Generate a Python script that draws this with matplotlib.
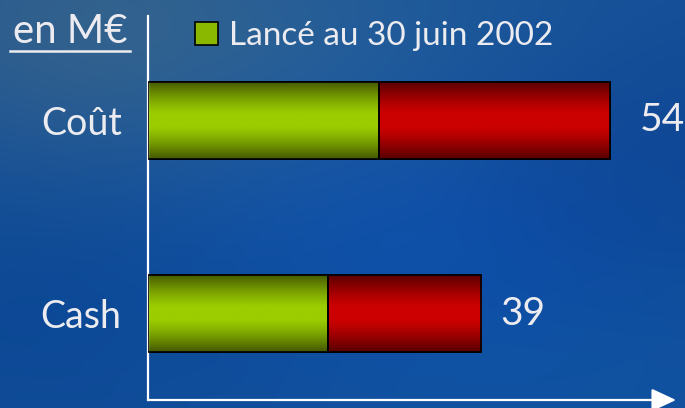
"""Bar chart: coût / cash en M€."""
import numpy as np
import matplotlib.pyplot as plt
from matplotlib.colors import to_rgb

categories = ['Cash', 'Coût']
lance = [21, 27]       # lancé au 30 juin 2002
reste = [18, 27]
totals = [39, 54]
legend_label = 'Lancé au 30 juin 2002'
unit_label = 'en M€'

plt.rcParams['font.family'] = ['Lato', 'DejaVu Sans']
TXT = '#ececf0'
W, H = 685, 408

fig = plt.figure(figsize=(W / 100, H / 100), dpi=100)

# blue background with soft lighter / darker patches
bg = fig.add_axes([0, 0, 1, 1], zorder=0)
yy, xx = np.mgrid[0:1:200j, 0:1:340j]
base = np.array(to_rgb('#14509a'))
img = np.ones((200, 340, 3)) * base
blobs = [(0.1, 0.05, 0.25, np.array([0.10, 0.05, -0.05])),
         (0.5, 0.1, 0.3, np.array([0.04, 0.04, 0.0])),
         (0.6, 0.55, 0.25, np.array([-0.02, 0.0, 0.06])),
         (0.95, 0.4, 0.25, np.array([-0.02, -0.04, -0.03])),
         (0.05, 0.75, 0.25, np.array([-0.03, -0.03, -0.02])),
         (0.85, 0.95, 0.3, np.array([-0.01, 0.01, 0.02]))]
for cx, cy, r, d in blobs:
    g = np.exp(-((xx - cx) ** 2 + (yy - cy) ** 2) / (2 * r ** 2))
    img += g[..., None] * d
bg.imshow(np.clip(img, 0, 1), aspect='auto', extent=[0, 1, 0, 1],
          interpolation='bilinear')
bg.axis('off')

ax = fig.add_axes([148 / W, 8 / H, 528 / W, 384 / H], zorder=1)
ax.patch.set_alpha(0)

y = np.arange(len(categories))
h = 0.4


def grad(center, edge, n=64):
    t = np.abs(np.linspace(-1, 1, n))
    t = np.clip((t - 0.15) / 0.85, 0, 1) ** 1.3
    c, e = np.array(to_rgb(center)), np.array(to_rgb(edge))
    return (c[None, :] * (1 - t[:, None]) + e[None, :] * t[:, None])[:, None, :]


g_green = grad('#9bcd00', '#445800')
g_red = grad('#cc0000', '#580000')

b1 = ax.barh(y, lance, height=h, color='#8ab800', edgecolor='black',
             linewidth=1.2, zorder=2, label=legend_label)
b2 = ax.barh(y, reste, left=lance, height=h, color='#b80000',
             edgecolor='black', linewidth=1.2, zorder=2)
for bars, gimg in ((b1, g_green), (b2, g_red)):
    for r in bars:
        x0, y0 = r.get_x(), r.get_y()
        im = ax.imshow(gimg, extent=(x0, x0 + r.get_width(), y0, y0 + r.get_height()),
                       aspect='auto', interpolation='bilinear', zorder=2.5)
        im.set_clip_path(r)
ax.barh(y, lance, height=h, fill=False, edgecolor='black', linewidth=1.2, zorder=3)
ax.barh(y, reste, left=lance, height=h, fill=False, edgecolor='black',
        linewidth=1.2, zorder=3)

offsets = [19, 30]
for yi, tot, off in zip(y, totals, offsets):
    ax.annotate(str(tot), (tot, yi), xytext=(off * 0.72, 0), textcoords='offset points',
                ha='left', va='center', color=TXT, fontsize=28)

ax.set_xlim(0, 528 / 8.55)
ax.set_ylim(-0.448, 1.541)
ax.set_xticks([])
ax.set_yticks(y, categories)
ax.tick_params(axis='y', length=0, pad=19, labelsize=27, labelcolor=TXT)
for s in ('top', 'right', 'bottom'):
    ax.spines[s].set_visible(False)
ax.spines['left'].set_color('white')
ax.spines['left'].set_linewidth(1.6)
ax.annotate('', xy=(1.0, 0), xytext=(0, 0), xycoords='axes fraction',
            arrowprops=dict(arrowstyle='-|>,head_length=1.5,head_width=0.7',
                            color='white', lw=1.6, shrinkA=0, shrinkB=0),
            annotation_clip=False)

fig.legend(handles=[b1], loc='center left', bbox_to_anchor=(195 / W, 1 - 36 / H),
           frameon=False, fontsize=24, labelcolor=TXT, handlelength=0.7,
           handleheight=0.7, handletextpad=0.33, borderpad=0, borderaxespad=0)

fig.text(13 / W, 1 - 43 / H, unit_label, color=TXT, fontsize=29, ha='left',
         va='baseline')
fig.add_artist(plt.Line2D([10 / W, 130 / W], [1 - 51 / H, 1 - 51 / H],
                          color=TXT, lw=1.8))

fig.savefig('out.png', dpi=100)
